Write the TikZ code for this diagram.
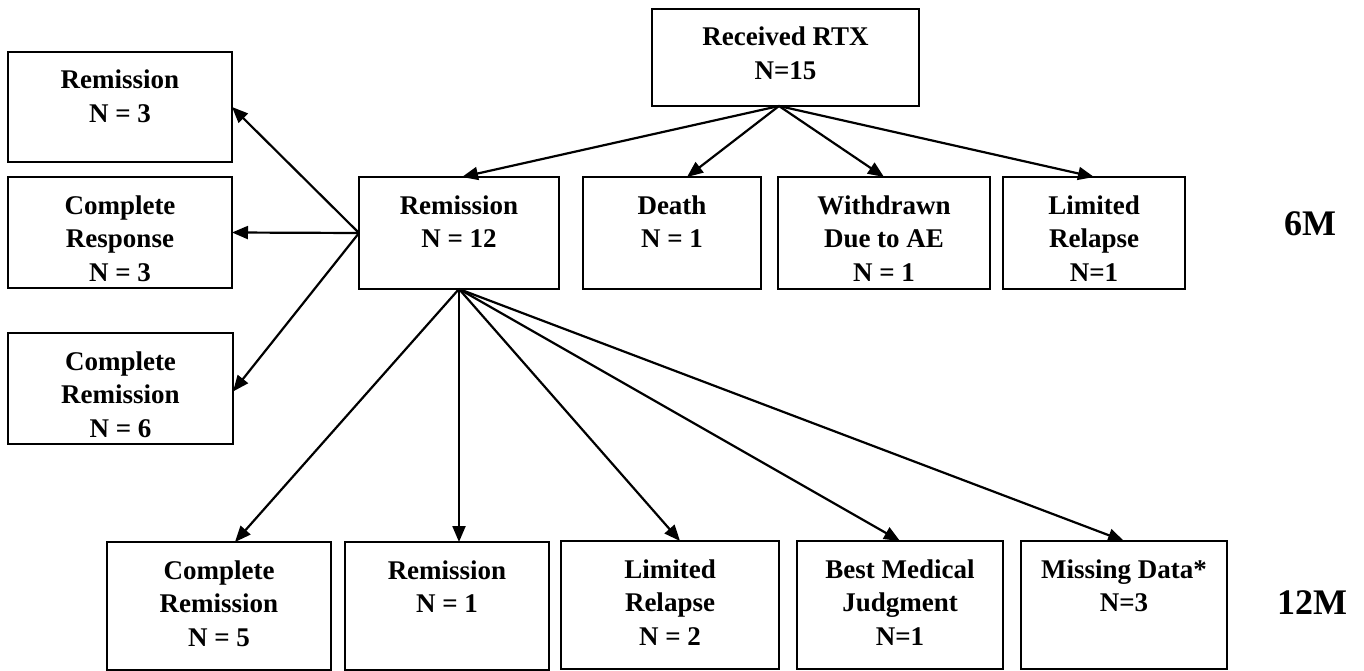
\documentclass[tikz,border=0pt]{standalone}
\usepackage{fontspec}
\setmainfont{Liberation Serif}
\usetikzlibrary{arrows.meta}
\newcommand{\bt}[3]{\parbox[c][#2][t]{#1}{\centering\rule{0pt}{37pt}#3\par}}
\begin{document}
\begin{tikzpicture}[x=1pt,y=-1pt,
  bx/.style={draw, line width=2.2pt, inner sep=0pt, outer sep=0pt,
    font=\bfseries\fontsize{27}{33.5}\selectfont},
  arr/.style={line width=2.2pt, -{Triangle[length=16pt,width=13pt]}},
  lbl/.style={font=\bfseries\fontsize{36}{40}\selectfont, inner sep=0pt}]
\useasboundingbox (0,0) rectangle (1364,671);
% top
\node[bx] (rtx) at (785.5,57.5) {\bt{267pt}{97pt}{Received RTX\\N=15}};
% 6M row
\node[bx] (r12) at (459,233) {\bt{200pt}{112pt}{Remission\\N = 12}};
\node[bx] (death) at (672,233) {\bt{178pt}{112pt}{Death\\N = 1}};
\node[bx] (wd) at (884,233) {\bt{212pt}{112pt}{Withdrawn\\Due to AE\\N = 1}};
\node[bx] (lr1) at (1094,233) {\bt{182pt}{112pt}{Limited\\Relapse\\N=1}};
% left column
\node[bx] (r3) at (120,107) {\bt{224pt}{110pt}{Remission\\N = 3}};
\node[bx] (cresp) at (120,232.5) {\bt{224pt}{111pt}{Complete\\Response\\N = 3}};
\node[bx] (crem6) at (120.5,388.5) {\bt{225pt}{111pt}{Complete\\Remission\\N = 6}};
% 12M row
\node[bx] (cr5) at (219,606) {\bt{224pt}{128pt}{Complete\\Remission\\N = 5}};
\node[bx] (r1) at (447,606) {\bt{204pt}{128pt}{Remission\\N = 1}};
\node[bx] (lr2) at (670,605) {\bt{218pt}{128pt}{Limited\\Relapse\\N = 2}};
\node[bx] (bmj) at (900,605) {\bt{206pt}{128pt}{Best Medical\\Judgment\\N=1}};
\node[bx] (md) at (1124,605) {\bt{206pt}{128pt}{Missing Data*\\N=3}};
% period labels
\node[lbl] (m6) at (1310,224) {6M};
\node[lbl] (m12) at (1312,603) {12M};
% connectors
\coordinate (rtxs) at (779,106);
\draw[arr] (rtxs) -- ([xshift=3pt]r12.north);
\draw[arr] (rtxs) -- ([xshift=15pt]death.north);
\draw[arr] (rtxs) -- (wd.north);
\draw[arr] (rtxs) -- (lr1.north);
\draw[arr] (r12.west) -- (r3.east);
\draw[arr] (r12.west) -- (cresp.east);
\draw[arr] (r12.west) -- ([yshift=-3pt]crem6.east);
\draw[arr] (r12.south) -- ([xshift=16pt]cr5.north);
\draw[arr] (r12.south) -- (r12.south |- r1.north);
\draw[arr] (r12.south) -- ([xshift=10pt]lr2.north);
\draw[arr] (r12.south) -- (bmj.north);
\draw[arr] (r12.south) -- (md.north);
\end{tikzpicture}
\end{document}
